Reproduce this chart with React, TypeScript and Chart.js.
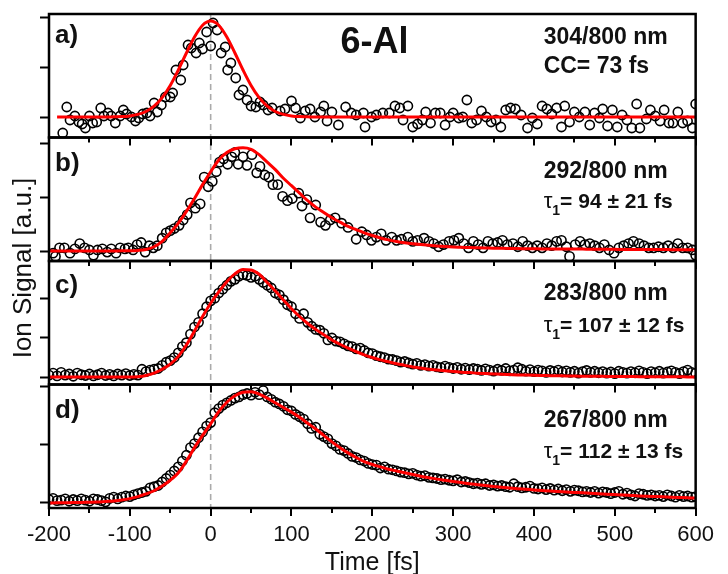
import React, { useEffect, useRef } from "react";
import { Chart, registerables } from "chart.js";

Chart.register(...registerables);

// ---------------- data ----------------
const xMajorTicks = [-200, -100, 0, 100, 200, 300, 400, 500, 600];
const xMinorTicks = [-150, -50, 50, 150, 250, 350, 450, 550];
const yTicksA = [0, 0.5, 1];
const yTicksB = [0, 0.5, 1];
const yTicksC = [0, 1, 2];
const yTicksD = [0, 1, 2];

const panelLetters = ["a)", "b)", "c)", "d)"];
const wavelengthLabels = ["304/800 nm", "292/800 nm", "283/800 nm", "267/800 nm"];
const widthLabel = "CC= 73 fs";
const tauLabels = ["", "= 94 \u00B1 21 fs", "= 107 \u00B1 12 fs", "= 112 \u00B1 13 fs"];
const moleculeTitle = "6-Al";
const xTitle = "Time [fs]";
const yTitle = "Ion Signal [a.u.]";

// fit curves (sampled every 10 fs)
const fitTimes = [
  -200, -190, -180, -170, -160, -150, -140, -130, -120, -110, -100, -90, -80, -70, -60, -50, -40, -30, -20, -10,
  0, 10, 20, 30, 40, 50, 60, 70, 80, 90, 100, 110, 120, 130, 140, 150, 160, 170, 180, 190,
  200, 210, 220, 230, 240, 250, 260, 270, 280, 290, 300, 310, 320, 330, 340, 350, 360, 370, 380, 390,
  400, 410, 420, 430, 440, 450, 460, 470, 480, 490, 500, 510, 520, 530, 540, 550, 560, 570, 580, 590,
  600,
];
const fitA = [
  null, 0, 0, 0, 0, 0, 0, 0, 0.002, 0.004, 0.011, 0.026, 0.055, 0.108, 0.193, 0.315, 0.47, 0.64, 0.8, 0.918,
  0.96, 0.918, 0.8, 0.64, 0.47, 0.315, 0.193, 0.108, 0.055, 0.026, 0.011, 0.004, 0.002, 0, 0, 0, 0, 0, 0, 0,
  0, 0, 0, 0, 0, 0, 0, 0, 0, 0, 0, 0, 0, 0, 0, 0, 0, 0, 0, 0,
  0, 0, 0, 0, 0, 0, 0, 0, 0, 0, 0, 0, 0, 0, 0, 0, 0, 0, 0, 0,
  0,
];
const fitB = [
  0, 0, 0, 0, 0, 0, 0, 0, 0.001, 0.002, 0.003, 0.006, 0.015, 0.04, 0.09, 0.17, 0.26, 0.37, 0.49, 0.62,
  0.74, 0.85, 0.92, 0.955, 0.965, 0.95, 0.9, 0.83, 0.76, 0.68, 0.61, 0.54, 0.47, 0.41, 0.36, 0.31, 0.27, 0.23, 0.2, 0.17,
  0.145, 0.122, 0.104, 0.09, 0.078, 0.068, 0.06, 0.053, 0.047, 0.042, 0.038, 0.035, 0.032, 0.03, 0.028, 0.026, 0.025, 0.024, 0.023, 0.022,
  0.021, 0.02, 0.02, 0.019, 0.019, 0.018, 0.018, 0.017, 0.017, 0.016, 0.016, 0.015, 0.015, 0.015, 0.014, 0.014, 0.014, 0.013, 0.013, 0.013,
  0.013,
];
const fitC = [
  0, 0, 0, 0, 0, 0, 0, 0, 0, 0, 0, 0.01, 0.04, 0.1, 0.2, 0.33, 0.53, 0.82, 1.18, 1.55,
  1.89, 2.18, 2.44, 2.64, 2.75, 2.74, 2.63, 2.42, 2.2, 1.97, 1.75, 1.55, 1.37, 1.22, 1.08, 0.95, 0.84, 0.74, 0.65, 0.57,
  0.5, 0.44, 0.39, 0.34, 0.3, 0.26, 0.23, 0.2, 0.18, 0.16, 0.14, 0.125, 0.115, 0.1, 0.09, 0.08, 0.07, 0.063, 0.056, 0.05,
  0.045, 0.041, 0.037, 0.033, 0.03, 0.025, 0.023, 0.021, 0.019, 0.017, 0.015, 0.014, 0.012, 0.011, 0.01, 0.008, 0.007, 0.006, 0.006, 0.005,
  0.005,
];
const fitD = [
  0, 0.002, 0.005, 0.007, 0.01, 0.012, 0.015, 0.025, 0.035, 0.05, 0.075, 0.11, 0.155, 0.21, 0.29, 0.39, 0.52, 0.72, 0.95, 1.16,
  1.36, 1.57, 1.73, 1.84, 1.9, 1.91, 1.87, 1.8, 1.72, 1.64, 1.56, 1.47, 1.37, 1.27, 1.16, 1.05, 0.95, 0.86, 0.78, 0.71,
  0.66, 0.62, 0.58, 0.55, 0.52, 0.49, 0.46, 0.435, 0.41, 0.39, 0.37, 0.35, 0.33, 0.315, 0.3, 0.285, 0.27, 0.257, 0.245, 0.235,
  0.225, 0.215, 0.205, 0.197, 0.19, 0.182, 0.175, 0.167, 0.16, 0.152, 0.145, 0.138, 0.13, 0.122, 0.115, 0.11, 0.105, 0.1, 0.095, 0.09,
  0.085,
];

// measured points, panel a
const timesA = [
  -183, -178, -174, -168, -163, -159, -155, -150, -146, -141, -136, -132, -127, -123, -118, -112, -108, -104, -98, -93,
  -89, -84, -79, -75, -70, -66, -61, -56, -50, -47, -43, -37, -34, -28, -24, -18, -14, -10, -5, 0,
  3, 8, 13, 18, 21, 25, 31, 35, 40, 45, 50, 56, 61, 65, 71, 76,
  86, 92, 100, 105, 111, 117, 123, 129, 136, 140, 144, 150, 158, 167, 174, 180,
  189, 191, 199, 205, 213, 221, 228, 234, 238, 244, 250, 256, 262, 266, 272, 278, 284, 290, 296, 300,
  307, 312, 317, 323, 329, 335, 341, 347, 353, 359, 365, 371, 377, 384, 392, 398, 404, 410, 416, 422,
  428, 434, 438, 444, 450, 456, 463, 469, 475, 481, 485, 491, 497, 503, 509, 515, 521, 527, 531, 539,
  544, 550, 556, 561, 567, 572, 578, 584, 590, 596, 600,
];
const valuesA = [
  -0.16, 0.1, -0.03, 0.01, -0.05, -0.07, -0.11, 0.01, -0.06, -0.05, 0.09, 0.01, 0.04, 0.01, -0.06, 0.01, 0.07, 0.03, 0.0, -0.04,
  -0.01, 0.03, 0.04, 0.01, 0.14, 0.05, 0.12, 0.2, 0.2, 0.24, 0.47, 0.37, 0.52, 0.72, 0.69, 0.64, 0.74, 0.68, 0.85, 0.71,
  0.94, 0.87, 0.64, 0.7, 0.47, 0.54, 0.39, 0.22, 0.27, 0.17, 0.11, 0.1, 0.15, 0.12, 0.07, 0.09,
  0.06, 0.08, 0.16, 0.09, -0.01, 0.06, 0.08, 0.0, 0.05, 0.11, -0.04, 0.05, -0.08, 0.1, 0.04, 0.02,
  0.04, -0.1, 0.0, 0.02, 0.04, 0.04, 0.11, 0.09, -0.03, 0.11, -0.1, -0.07, -0.03, 0.05, -0.06, 0.04, 0.04, -0.08, 0.0, 0.04,
  -0.01, 0.0, 0.17, -0.06, -0.03, 0.06, 0.0, -0.05, -0.03, -0.1, 0.07, 0.09, 0.08, 0.02, -0.11, -0.01, -0.07, 0.11, 0.08, 0.03,
  0.09, -0.1, 0.11, -0.05, 0.05, 0.0, 0.05, -0.08, 0.04, -0.01, 0.08, -0.09, 0.07, -0.1, 0.02, -0.03, -0.11, 0.13, -0.11, -0.02,
  0.07, 0.01, -0.04, 0.07, -0.06, -0.06, 0.05, -0.06, -0.04, -0.11, 0.13,
];

// measured points, panel b
const timesB = [
  -195, -192, -187, -181, -174, -168, -162, -156, -150, -145, -140, -134, -128, -123, -117, -112, -106, -102, -96, -91,
  -86, -81, -76, -71, -66, -60, -55, -50, -45, -39, -34, -29, -25, -19, -13, -8, -3, 2, 7, 11,
  16, 21, 26, 30, 34, 40, 45, 51, 57, 61, 67, 72, 77, 83, 89, 95, 101, 109, 113, 119,
  123, 130, 136, 142, 148, 154, 162, 170, 180,
  187, 193, 199, 205, 211, 217, 224, 230, 236, 244, 250, 256, 264, 270, 276, 282, 288, 295, 301, 307,
  313, 319, 325, 331, 337, 343, 349, 355, 361, 367, 374, 380, 386, 392, 398, 404, 410, 416, 422, 428,
  434, 440, 444, 451, 457, 463, 469, 475, 481, 487, 493, 499, 505, 511, 517, 523, 530, 536, 542, 548,
  554, 560, 566, 572, 578, 584, 590, 596, 600,
];
const valuesB = [
  -0.02, -0.05, 0.03, 0.03, -0.02, 0.02, 0.07, 0.03, 0.01, -0.04, 0.01, 0.02, -0.01, 0.02, -0.02, 0.03, 0.02, 0.03, 0.01, 0.06,
  0.08, -0.01, 0.05, 0.03, 0.05, 0.12, 0.17, 0.19, 0.21, 0.24, 0.29, 0.34, 0.45, 0.4, 0.44, 0.69, 0.6, 0.65, 0.74, 0.83,
  0.86, 0.81, 0.88, 0.92, 0.81, 0.88, 0.8, 0.9, 0.73, 0.79, 0.71, 0.69, 0.62, 0.62, 0.51, 0.47, 0.49, 0.54, 0.42, 0.48,
  0.31, 0.43, 0.27, 0.24, 0.29, 0.31, 0.26, 0.22, 0.11,
  0.18, 0.15, 0.1, 0.13, 0.16, 0.1, 0.13, 0.1, 0.11, 0.13, 0.09, 0.1, 0.12, 0.09, 0.07, 0.04, 0.06, 0.09, 0.1, 0.12,
  0.07, 0.03, 0.09, 0.06, 0.03, 0.09, 0.07, 0.08, 0.1, 0.06, 0.07, 0.04, 0.09, 0.05, 0.03, 0.05, 0.03, 0.07, 0.05, 0.09,
  0.1, 0.04, -0.05, 0.06, 0.09, 0.06, 0.07, 0.05, 0.03, 0.06, 0.01, -0.02, 0.03, 0.05, 0.07, 0.09, 0.07, 0.05, 0.03, 0.03,
  0.04, 0.03, 0.05, 0.03, 0.07, 0.03, 0.03, 0.01, -0.04,
];

// measured points, panels c and d (5 fs scan grid)
const gridTimes = [
  -200, -195, -190, -185, -180, -175, -170, -165, -160, -155, -150, -145, -140, -135, -130, -125, -120, -115, -110, -105,
  -100, -95, -90, -85, -80, -75, -70, -65, -60, -55, -50, -45, -40, -35, -30, -25, -20, -15, -10, -5,
  0, 5, 10, 15, 20, 25, 30, 35, 40, 45, 50, 55, 60, 65, 70, 75, 80, 85, 90, 95,
  100, 105, 110, 115, 120, 125, 130, 135, 140, 145, 150, 155, 160, 165, 170, 175, 180, 185, 190, 195,
  200, 205, 210, 215, 220, 225, 230, 235, 240, 245, 250, 255, 260, 265, 270, 275, 280, 285, 290, 295,
  300, 305, 310, 315, 320, 325, 330, 335, 340, 345, 350, 355, 360, 365, 370, 375, 380, 385, 390, 395,
  400, 405, 410, 415, 420, 425, 430, 435, 440, 445, 450, 455, 460, 465, 470, 475, 480, 485, 490, 495,
  500, 505, 510, 515, 520, 525, 530, 535, 540, 545, 550, 555, 560, 565, 570, 575, 580, 585, 590, 595,
  600,
];
const valuesC = [
  0.05, 0.1, 0.03, 0.12, 0.05, 0.08, 0.02, 0.1, 0.06, 0.04, 0.08, 0.03, 0.06, 0.1, 0.04, 0.07, 0.03, 0.08, 0.05, 0.09,
  0.04, 0.07, 0.05, 0.2, 0.14, 0.18, 0.2, 0.22, 0.3, 0.38, 0.42, 0.5, 0.62, 0.78, 0.88, 1.1, 1.28, 1.4, 1.62, 1.8,
  1.95, 2.02, 2.15, 2.25, 2.35, 2.45, 2.5, 2.58, 2.62, 2.6, 2.55, 2.58, 2.5, 2.42, 2.35, 2.28, 2.15, 2.1, 1.98, 1.85,
  1.8, 1.62, 1.5, 1.62, 1.4, 1.3, 1.22, 1.2, 1.12, 0.95, 1.0, 0.92, 0.9, 0.85, 0.8, 0.78, 0.72, 0.74, 0.68, 0.62,
  0.6, 0.55, 0.52, 0.5, 0.46, 0.45, 0.42, 0.38, 0.4, 0.36, 0.33, 0.35, 0.3, 0.32, 0.28, 0.3, 0.26, 0.24, 0.28, 0.25,
  0.22, 0.25, 0.2, 0.23, 0.19, 0.22, 0.2, 0.17, 0.21, 0.18, 0.15, 0.2, 0.17, 0.22, 0.16, 0.18, 0.24, 0.2, 0.15, 0.19,
  0.14, 0.18, 0.16, 0.12, 0.17, 0.14, 0.18, 0.13, 0.16, 0.12, 0.15, 0.1, 0.14, 0.17, 0.12, 0.15, 0.11, 0.14, 0.1, 0.13,
  0.09, 0.15, 0.12, 0.1, 0.14, 0.11, 0.16, 0.12, 0.09, 0.14, 0.11, 0.15, 0.1, 0.13, 0.16, 0.12, 0.09, 0.14, 0.18, 0.12,
  0.1,
];
const valuesD = [
  0.06, 0.08, 0.04, 0.05, 0.07, 0.03, 0.06, 0.04, 0.07, 0.05, 0.03, 0.07, 0.06, 0.04, 0.02, 0.08, 0.1, 0.07, 0.1, 0.12,
  0.11, 0.14, 0.16, 0.18, 0.2, 0.26, 0.28, 0.3, 0.36, 0.42, 0.48, 0.55, 0.62, 0.72, 0.82, 0.95, 1.02, 1.12, 1.22, 1.32,
  1.38, 1.55, 1.62, 1.68, 1.72, 1.76, 1.8, 1.82, 1.86, 1.88, 1.85, 1.9, 1.86, 1.93, 1.82, 1.78, 1.73, 1.7, 1.66, 1.6,
  1.58, 1.52, 1.48, 1.44, 1.36, 1.28, 1.3, 1.18, 1.14, 1.1, 1.02, 0.98, 0.92, 0.9, 0.85, 0.8, 0.78, 0.74, 0.72, 0.68,
  0.66, 0.65, 0.6, 0.62, 0.58, 0.57, 0.55, 0.53, 0.52, 0.5, 0.51, 0.48, 0.46, 0.47, 0.44, 0.43, 0.42, 0.4, 0.41, 0.39,
  0.38, 0.4, 0.36, 0.37, 0.35, 0.33, 0.34, 0.32, 0.33, 0.3, 0.31, 0.29, 0.3, 0.28, 0.27, 0.33, 0.28, 0.26, 0.27, 0.29,
  0.25, 0.24, 0.26, 0.23, 0.25, 0.22, 0.24, 0.21, 0.23, 0.2, 0.22, 0.21, 0.19, 0.2, 0.18, 0.2, 0.17, 0.19, 0.18, 0.16,
  0.18, 0.2, 0.15, 0.17, 0.14, 0.12, 0.16, 0.15, 0.13, 0.14, 0.12, 0.13, 0.11, 0.14, 0.12, 0.1, 0.13, 0.11, 0.12, 0.1,
  0.11,
];

// axis ranges of the four panels
const rangeA = [-0.205, 1.03];
const rangeB = [-0.093, 1.06];
const rangeC = [-0.19, 2.97];
const rangeD = [-0.086, 2.034];

// ---------------- chart ----------------
const FONT = '"Liberation Sans", Arial, Helvetica, sans-serif';
const panelIds = ["yA", "yB", "yC", "yD"];
const letterDy = [29, 33, 32, 33.5];
const line1Dy = [30, 40.5, 38.5, 42];
const line2Dy = [59, 70.5, 70.5, 73.5];

const toPts = (xs: number[], ys: (number | null)[]) => xs.map((x, i) => ({ x, y: ys[i] }));

const decorPlugin = {
  id: "decor",
  beforeDatasetsDraw(chart: any) {
    const { ctx, chartArea } = chart;
    const px = chart.scales.x.getPixelForValue(0);
    ctx.save();
    ctx.strokeStyle = "#ababab";
    ctx.lineWidth = 1.6;
    ctx.setLineDash([6, 4]);
    ctx.beginPath();
    ctx.moveTo(px, chartArea.top);
    ctx.lineTo(px, chartArea.bottom);
    ctx.stroke();
    ctx.restore();
  },
  afterDatasetsDraw(chart: any) {
    const { ctx, chartArea } = chart;
    const xs = chart.scales.x;
    const L = chartArea.left;
    const R = chartArea.right;
    ctx.save();
    ctx.strokeStyle = "#000";
    ctx.lineWidth = 2.5;
    panelIds.forEach((id) => {
      const s = chart.scales[id];
      ctx.strokeRect(L, s.top, R - L, s.bottom - s.top);
    });
    ctx.lineWidth = 2;
    ctx.beginPath();
    panelIds.forEach((id) => {
      const y0 = chart.scales[id].bottom;
      xMajorTicks.forEach((v) => {
        const p = Math.round(xs.getPixelForValue(v));
        ctx.moveTo(p, y0);
        ctx.lineTo(p, y0 + 8);
      });
      xMinorTicks.forEach((v) => {
        const p = Math.round(xs.getPixelForValue(v));
        ctx.moveTo(p, y0);
        ctx.lineTo(p, y0 + 5);
      });
    });
    ctx.stroke();
    ctx.restore();
  },
  afterDraw(chart: any) {
    const { ctx, chartArea } = chart;
    const L = chartArea.left;
    const R = chartArea.right;
    ctx.save();
    ctx.fillStyle = "#111";
    ctx.textBaseline = "alphabetic";
    ctx.textAlign = "left";
    panelIds.forEach((id, i) => {
      const top = chart.scales[id].top;
      ctx.font = `bold 26px ${FONT}`;
      ctx.fillText(panelLetters[i], L + 6, top + letterDy[i]);
      const tx = R - 152;
      ctx.font = `bold 23px ${FONT}`;
      ctx.fillText(wavelengthLabels[i], tx, top + line1Dy[i]);
      const by = top + line2Dy[i];
      if (i === 0) {
        ctx.fillText(widthLabel, tx, by);
      } else {
        ctx.font = `22px ${FONT}`;
        ctx.fillText("\u03C4", tx, by);
        let cx = tx + ctx.measureText("\u03C4").width;
        ctx.font = `bold 14px ${FONT}`;
        ctx.fillText("1", cx, by + 7);
        cx += ctx.measureText("1").width;
        ctx.font = `bold 21px ${FONT}`;
        ctx.fillText(tauLabels[i], cx, by);
      }
    });
    const topA = chart.scales.yA.top;
    ctx.font = `bold 36px ${FONT}`;
    ctx.textAlign = "center";
    ctx.fillText(moleculeTitle, 374.5, topA + 39);
    ctx.translate(30.5, (chartArea.top + chartArea.bottom) / 2 + 7);
    ctx.rotate(-Math.PI / 2);
    ctx.font = `26px ${FONT}`;
    ctx.fillStyle = "#111";
    ctx.fillText(yTitle, 0, 0);
    ctx.restore();
  },
};

function yAxis(range: number[], ticks: number[]) {
  return {
    type: "linear",
    position: "left",
    stack: "panels",
    stackWeight: 1,
    offset: false,
    min: range[0],
    max: range[1],
    afterBuildTicks: (s: any) => {
      s.ticks = ticks.map((v) => ({ value: v }));
    },
    afterFit: (s: any) => {
      s.width = 41;
    },
    grid: {
      drawOnChartArea: false,
      drawTicks: true,
      tickLength: 9,
      tickColor: "#000",
      tickWidth: 2,
    },
    border: { display: false },
    ticks: { display: false, includeBounds: false },
  };
}

export default function App() {
  const ref = useRef<HTMLCanvasElement | null>(null);
  useEffect(() => {
    if (!ref.current) return;
    Chart.defaults.font.family = FONT;
    const scatterStyle = {
      showLine: false,
      pointRadius: 4.6,
      pointBorderWidth: 1.6,
      pointBorderColor: "#000",
      pointBackgroundColor: "rgba(255,255,255,0)",
      order: 2,
    };
    const fitStyle = {
      showLine: true,
      borderColor: "#ff0000",
      borderWidth: 3,
      pointRadius: 0,
      cubicInterpolationMode: "monotone",
      spanGaps: false,
      order: 1,
    };
    const chart = new Chart(ref.current, {
      type: "scatter",
      data: {
        datasets: [
          { ...fitStyle, label: "fit a", data: toPts(fitTimes, fitA), yAxisID: "yA" },
          { ...fitStyle, label: "fit b", data: toPts(fitTimes, fitB), yAxisID: "yB" },
          { ...fitStyle, label: "fit c", data: toPts(fitTimes, fitC), yAxisID: "yC" },
          { ...fitStyle, label: "fit d", data: toPts(fitTimes, fitD), yAxisID: "yD" },
          { ...scatterStyle, label: "a", data: toPts(timesA, valuesA), yAxisID: "yA" },
          { ...scatterStyle, label: "b", data: toPts(timesB, valuesB), yAxisID: "yB" },
          { ...scatterStyle, label: "c", data: toPts(gridTimes, valuesC), yAxisID: "yC" },
          { ...scatterStyle, label: "d", data: toPts(gridTimes, valuesD), yAxisID: "yD" },
        ] as any,
      },
      options: {
        responsive: false,
        animation: false,
        events: [],
        layout: { padding: { left: 8, top: 14, right: 21, bottom: 0 } },
        plugins: { legend: { display: false }, tooltip: { enabled: false } },
        scales: {
          x: {
            type: "linear",
            position: "bottom",
            min: -200,
            max: 600,
            afterBuildTicks: (s: any) => {
              s.ticks = xMajorTicks.map((v) => ({ value: v }));
            },
            afterFit: (s: any) => {
              s.height = 66;
            },
            grid: { display: false, drawTicks: false },
            border: { display: false },
            ticks: {
              autoSkip: false,
              maxRotation: 0,
              padding: 14,
              color: "#111",
              font: { size: 22, family: FONT },
            },
            title: {
              display: true,
              text: xTitle,
              color: "#111",
              font: { size: 25, family: FONT, lineHeight: 0.9 },
              padding: { top: 0, bottom: 0 },
            },
          },
          yD: yAxis(rangeD, yTicksD),
          yC: yAxis(rangeC, yTicksC),
          yB: yAxis(rangeB, yTicksB),
          yA: yAxis(rangeA, yTicksA),
        } as any,
      },
      plugins: [decorPlugin],
    });
    return () => chart.destroy();
  }, []);
  return (
    <div style={{ position: "fixed", left: 0, top: 0, width: 728, height: 574, background: "#fff" }}>
      <canvas ref={ref} width={728} height={574} style={{ display: "block" }} />
    </div>
  );
}
